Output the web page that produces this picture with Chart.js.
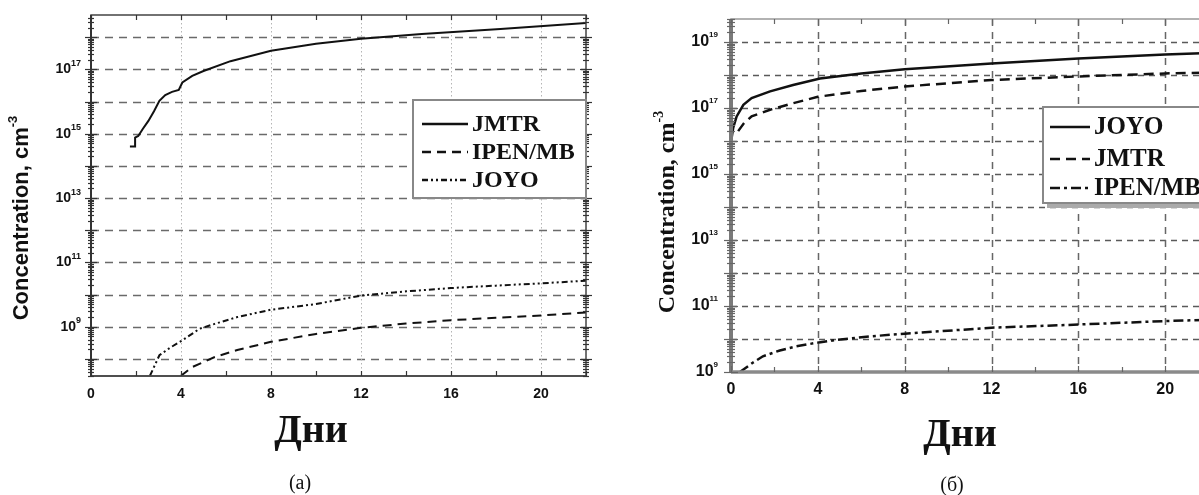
<!DOCTYPE html>
<html>
<head>
    <title>Concentration</title>
    <script src="https://cdn.jsdelivr.net/npm/chart.js"></script>
    <style>
        html, body { margin: 0; padding: 0; overflow: hidden; background: #fff; }
        body { width: 1199px; height: 495px; position: relative; }
        .box { position: absolute; top: 0; }
        #a { left: 0; }
        #b { left: 600px; }
    </style>
</head>
<body>
    <div class="box" id="a"><canvas id="chartA" width="600" height="495"></canvas></div>
    <div class="box" id="b"><canvas id="chartB" width="680" height="495"></canvas></div>

    <script>
        // (а) — days and concentration, cm^-3
        const aJmtrDays = [1.73, 1.96, 1.96, 2.1, 2.3, 2.55, 2.8, 3.04, 3.3, 3.6, 3.9, 4.06, 4.5, 5.0, 6.2, 8.0, 10, 12, 14.7, 18.2, 22];
        const aJmtrConc = [4e14, 4e14, 7.6e14, 8.5e14, 1.4e15, 2.5e15, 5e15, 1.05e16, 1.6e16, 2e16, 2.3e16, 3.9e16, 6.3e16, 8.9e16, 1.8e17, 3.8e17, 6.3e17, 8.9e17, 1.26e18, 1.8e18, 2.75e18];
        const aIpenDays = [4.0, 4.5, 5.5, 6.5, 8, 10, 12, 14, 16, 18, 20, 22];
        const aIpenConc = [3e7, 5.6e7, 1.15e8, 1.9e8, 3.4e8, 6e8, 9.3e8, 1.26e9, 1.6e9, 1.9e9, 2.24e9, 2.8e9];
        const aJoyoDays = [2.62, 3.04, 3.5, 4.06, 4.83, 5.5, 6.5, 8.0, 10, 12, 14, 16, 18, 20, 22];
        const aJoyoConc = [3e7, 1.3e8, 2.2e8, 3.8e8, 8.7e8, 1.23e9, 2e9, 3.4e9, 5.1e9, 9.3e9, 1.26e10, 1.6e10, 1.9e10, 2.24e10, 2.7e10];

        // (б)
        const bJoyoDays = [0.02, 0.03, 0.1, 0.26, 0.57, 0.95, 1.8, 2.86, 4.1, 6, 8, 12, 16, 20, 24];
        const bJoyoConc = [1.6e14, 1.26e16, 2.5e16, 5.6e16, 1.26e17, 2e17, 3.2e17, 5e17, 7.9e17, 1.12e18, 1.5e18, 2.24e18, 3.2e18, 4.2e18, 5.2e18];
        const bJmtrDays = [0.33, 0.6, 0.95, 1.8, 2.86, 4, 6, 8, 12, 16, 20, 24];
        const bJmtrConc = [2e16, 3.5e16, 5.6e16, 8.9e16, 1.4e17, 2.2e17, 3.3e17, 4.5e17, 7.1e17, 9.1e17, 1.12e18, 1.26e18];
        const bIpenDays = [0.41, 1.0, 1.47, 2.25, 3.0, 3.9, 4.9, 6.4, 8, 12, 16, 20, 24];
        const bIpenConc = [1e9, 1.9e9, 3e9, 4.5e9, 6e9, 7.6e9, 9.5e9, 1.2e10, 1.45e10, 2.2e10, 2.75e10, 3.5e10, 4.2e10];

        // ticks
        const xTicks = [0, 4, 8, 12, 16, 20];
        const aExpLabels = [9, 11, 13, 15, 17];
        const bExpLabels = [9, 11, 13, 15, 17, 19];

        const pts = (xs, ys) => xs.map((d, i) => ({ x: d, y: ys[i] }));

        function pen(ctx, s) {
            ctx.strokeStyle = s.color;
            ctx.lineWidth = s.width;
            ctx.setLineDash(s.dash || []);
        }

        function seg(ctx, x1, y1, x2, y2) {
            ctx.beginPath(); ctx.moveTo(x1, y1); ctx.lineTo(x2, y2); ctx.stroke();
        }

        // text with superscript, align: 'right' or 'center'
        function supText(ctx, x, y, base, sup, f1, f2, rise, align) {
            ctx.font = f1; const w1 = ctx.measureText(base).width;
            ctx.font = f2; const w2 = ctx.measureText(sup).width;
            const x0 = align === 'right' ? x - w1 - w2 : x - (w1 + w2) / 2;
            ctx.textAlign = 'left';
            ctx.textBaseline = 'middle';
            ctx.font = f1; ctx.fillText(base, x0, y);
            ctx.font = f2; ctx.fillText(sup, x0 + w1, y - rise);
        }

        const decor = {
            id: 'decor',
            beforeDatasetsDraw(chart, args, o) {
                const { ctx, chartArea: a, scales: { x, y } } = chart;
                ctx.save();
                ctx.beginPath(); ctx.rect(a.left, a.top, a.right - a.left, a.bottom - a.top); ctx.clip();
                pen(ctx, o.hGrid);
                const e0 = Math.ceil(Math.log10(y.min)), e1 = Math.floor(Math.log10(y.max));
                for (let e = e0; e <= e1; e++) {
                    const py = Math.round(y.getPixelForValue(Math.pow(10, e))) + 0.5;
                    seg(ctx, a.left, py, a.right, py);
                }
                pen(ctx, o.vGrid);
                for (let t = 4; t < x.max; t += 4) {
                    const px = Math.round(x.getPixelForValue(t)) + 0.5;
                    seg(ctx, px, a.top, px, a.bottom);
                }
                ctx.restore();
            },
            afterDatasetsDraw(chart, args, o) {
                const { ctx, chartArea: a, scales: { x, y } } = chart;
                ctx.save();
                // frame
                pen(ctx, o.frame);
                ctx.strokeRect(a.left, a.top, a.right - a.left, a.bottom - a.top);
                pen(ctx, o.yAxis); seg(ctx, a.left, a.top, a.left, a.bottom);
                pen(ctx, o.xAxis); seg(ctx, a.left, a.bottom, a.right, a.bottom);

                // y ticks (log, major + minor)
                pen(ctx, { color: o.tickColor, width: 1.2 });
                const lo = Math.floor(Math.log10(y.min)), hi = Math.ceil(Math.log10(y.max));
                for (let e = lo; e <= hi; e++) {
                    for (let k = 1; k <= 9; k++) {
                        const v = k * Math.pow(10, e);
                        if (v < y.min || v > y.max) continue;
                        const py = Math.round(y.getPixelForValue(v)) + 0.5;
                        const len = k === 1 ? o.yMajor : o.yMinor;
                        seg(ctx, a.left - len, py, a.left + len, py);
                        seg(ctx, a.right - len, py, a.right + len, py);
                    }
                }
                // x ticks
                for (let t = 0; t <= x.max; t += 2) {
                    const px = Math.round(x.getPixelForValue(t)) + 0.5;
                    const len = t % 4 === 0 ? o.xMajor : o.xMinor;
                    seg(ctx, px, a.bottom, px, a.bottom - len);
                    seg(ctx, px, a.top, px, a.top + len);
                }

                ctx.fillStyle = '#111';
                // y labels
                o.expLabels.forEach(e => {
                    const py = y.getPixelForValue(Math.pow(10, e));
                    supText(ctx, o.yLabelRight, py, '10', String(e), o.tickFont, o.expFont, o.expRise, 'right');
                });
                // x labels
                ctx.font = o.tickFont;
                ctx.textAlign = 'center';
                ctx.textBaseline = 'middle';
                xTicks.forEach(t => ctx.fillText(String(t), x.getPixelForValue(t), o.xLabelY));

                // y title
                ctx.save();
                ctx.translate(o.yTitle.x, o.yTitle.y);
                ctx.rotate(-Math.PI / 2);
                supText(ctx, 0, 0, 'Concentration, cm', '-3', o.yTitle.font, o.yTitle.supFont, o.yTitle.rise, 'center');
                ctx.restore();

                // x title and caption
                ctx.textAlign = 'center';
                ctx.textBaseline = 'alphabetic';
                ctx.font = o.xTitle.font;
                ctx.fillText('Дни', o.xTitle.x, o.xTitle.y);
                ctx.font = o.caption.font;
                ctx.fillText(o.caption.text, o.caption.x, o.caption.y);

                // legend
                const L = o.legend;
                if (L.shadow) {
                    ctx.fillStyle = '#aaa';
                    ctx.fillRect(L.x + 4, L.y + L.h, L.w, 5);
                }
                ctx.fillStyle = '#fff';
                ctx.fillRect(L.x, L.y, L.w, L.h);
                pen(ctx, { color: '#888', width: 2 });
                ctx.strokeRect(L.x, L.y, L.w, L.h);
                chart.data.datasets.forEach((ds, i) => {
                    const ly = L.rows[i];
                    pen(ctx, { color: '#111', width: 2.5, dash: ds.borderDash });
                    seg(ctx, L.x + L.lx1, ly, L.x + L.lx2, ly);
                    ctx.fillStyle = '#111';
                    ctx.font = L.font;
                    ctx.textAlign = 'left';
                    ctx.textBaseline = 'middle';
                    ctx.fillText(ds.label, L.x + L.tx, ly + 1);
                });
                ctx.restore();
            }
        };

        function lineSet(label, xs, ys, width, dash) {
            return {
                label: label,
                data: pts(xs, ys),
                borderColor: '#111',
                borderWidth: width,
                borderDash: dash,
                pointRadius: 0,
                fill: false,
                tension: 0
            };
        }

        function makeChart(id, datasets, pad, xMax, yMin, yMax, decorOpts) {
            return new Chart(document.getElementById(id), {
                type: 'line',
                data: { datasets: datasets },
                options: {
                    responsive: false,
                    animation: false,
                    layout: { padding: pad },
                    plugins: { legend: { display: false }, tooltip: { enabled: false }, decor: decorOpts },
                    scales: {
                        x: {
                            type: 'linear', min: 0, max: xMax,
                            ticks: { display: false }, grid: { display: false }, border: { display: false },
                            afterFit: s => { s.height = 0; }
                        },
                        y: {
                            type: 'logarithmic', min: yMin, max: yMax,
                            ticks: { display: false }, grid: { display: false }, border: { display: false },
                            afterFit: s => { s.width = 0; }
                        }
                    }
                },
                plugins: [decor]
            });
        }

        // (а)
        makeChart('chartA', [
            lineSet('JMTR', aJmtrDays, aJmtrConc, 2, []),
            lineSet('IPEN/MB', aIpenDays, aIpenConc, 2, [9, 6]),
            lineSet('JOYO', aJoyoDays, aJoyoConc, 2, [6, 3, 2, 3, 2, 3])
        ], { left: 91, top: 15, right: 14, bottom: 119 }, 22, Math.pow(10, 7.47), Math.pow(10, 18.69), {
            hGrid: { color: '#6a6a6a', width: 1.5, dash: [8, 6] },
            vGrid: { color: '#b5b5b5', width: 1, dash: [1.5, 2.5] },
            frame: { color: '#444', width: 1.5 },
            yAxis: { color: '#333', width: 2 },
            xAxis: { color: '#444', width: 1.5 },
            tickColor: '#333', yMajor: 6, yMinor: 3, xMajor: 5, xMinor: 5,
            expLabels: aExpLabels, yLabelRight: 81, xLabelY: 394,
            tickFont: 'bold 14px "Liberation Sans"', expFont: 'bold 9px "Liberation Sans"', expRise: 6,
            yTitle: { x: 22, y: 218, font: 'bold 22px "Liberation Sans"', supFont: 'bold 13px "Liberation Sans"', rise: 9 },
            xTitle: { x: 311, y: 442, font: 'bold 40px "Liberation Serif"' },
            caption: { x: 300, y: 489, text: '(а)', font: '20px "Liberation Serif"' },
            legend: { x: 413, y: 100, w: 173, h: 98, rows: [124, 152, 180], lx1: 9, lx2: 55, tx: 59,
                      font: 'bold 24px "Liberation Serif"', shadow: false }
        });

        // (б)
        makeChart('chartB', [
            lineSet('JOYO', bJoyoDays, bJoyoConc, 2.5, []),
            lineSet('JMTR', bJmtrDays, bJmtrConc, 2.5, [10, 6]),
            lineSet('IPEN/MB', bIpenDays, bIpenConc, 2.5, [10, 4, 3, 4])
        ], { left: 131, top: 19, right: 28, bottom: 123 }, 24, 1e9, Math.pow(10, 19.7), {
            hGrid: { color: '#5a5a5a', width: 1.5, dash: [6, 5] },
            vGrid: { color: '#666', width: 1.5, dash: [7, 6] },
            frame: { color: '#999', width: 1.5 },
            yAxis: { color: '#7a7a7a', width: 4 },
            xAxis: { color: '#8a8a8a', width: 3.5 },
            tickColor: '#666', yMajor: 7, yMinor: 4, xMajor: 6, xMinor: 5,
            expLabels: bExpLabels, yLabelRight: 118, xLabelY: 390,
            tickFont: 'bold 16px "Liberation Sans"', expFont: 'bold 8px "Liberation Sans"', expRise: 7,
            yTitle: { x: 68, y: 212, font: 'bold 24px "Liberation Serif"', supFont: 'bold 14px "Liberation Serif"', rise: 9 },
            xTitle: { x: 360, y: 446, font: 'bold 40px "Liberation Serif"' },
            caption: { x: 352, y: 491, text: '(б)', font: '20px "Liberation Serif"' },
            legend: { x: 443, y: 107, w: 200, h: 96, rows: [127, 159, 188], lx1: 7, lx2: 47, tx: 51,
                      font: 'bold 25px "Liberation Serif"', shadow: true }
        });
    </script>
</body>
</html>
